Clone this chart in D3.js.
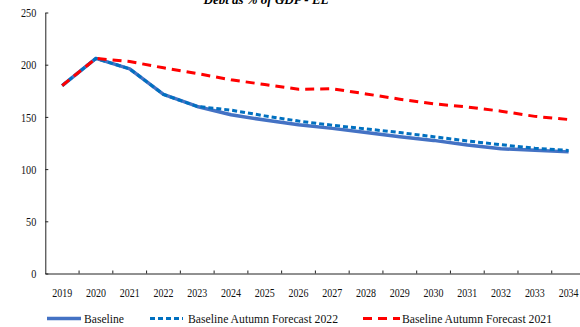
<!DOCTYPE html>
<html><head><meta charset="utf-8">
<script src="https://cdn.jsdelivr.net/npm/d3@7"></script>
<style>body{margin:0;background:#fff}svg{display:block}</style>
</head><body>
<svg id="c" width="580" height="327"></svg>
<script>
const years = ["2019","2020","2021","2022","2023","2024","2025","2026","2027","2028","2029","2030","2031","2032","2033","2034"];
const baseline = [180,206,196,171.5,160,152,147,142.5,139,135,131,127.5,123,119.5,118,116.5];
const autumn2022 = [180,206,196,171.5,160,156.5,151,146,142,138.5,135,131,127,123.3,120,117.8];
const autumn2021 = [180,206,203,197,191.5,185.5,181,176.5,177,172,167,162.5,159.5,155.5,150.5,147.5];
const yTicks = [0,50,100,150,200,250];
const seriesNames = ["Baseline","Baseline Autumn Forecast 2022","Baseline Autumn Forecast 2021"];

const svg = d3.select("#c");
const font = "'Liberation Serif','Times New Roman',serif";
const x = d3.scaleBand().domain(years).range([45.3, 585.5]);
const y = d3.scaleLinear().domain([0,250]).range([273.5, 12.5]);

// title (cut off at top, as in the original)
svg.append("text").attr("x",266).attr("y",3.5).attr("text-anchor","middle")
  .attr("font-family",font).attr("font-weight","bold").attr("font-style","italic")
  .attr("font-size",13).attr("textLength",125).attr("lengthAdjust","spacingAndGlyphs")
  .text("Debt as % of GDP - EL");

// y axis
const ya = svg.append("g").attr("transform","translate(45.3,0)")
  .call(d3.axisLeft(y).tickValues(yTicks).tickSizeInner(-3).tickSizeOuter(0).tickPadding(9));
ya.select(".domain").attr("stroke","#222");
ya.selectAll(".tick line").attr("stroke","#222");
ya.selectAll("text").attr("font-family",font).attr("font-size",13).attr("fill","#111")
  .attr("textLength",d=>String(d).length*5.1).attr("lengthAdjust","spacingAndGlyphs");

// x axis
const xa = svg.append("g").attr("transform","translate(0,273.5)")
  .call(d3.axisBottom(x).tickSize(0).tickPadding(13.5));
xa.select(".domain").attr("stroke","#222");
xa.selectAll("text").attr("font-family",font).attr("font-size",13.5).attr("fill","#111")
  .attr("transform","scale(0.74,1)");
// tick marks between categories (inward)
svg.append("g").selectAll("line").data(years.slice(1)).join("line")
  .attr("x1",d=>x(d)).attr("x2",d=>x(d)).attr("y1",273.5).attr("y2",270.5)
  .attr("stroke","#222");

const cx = d => x(d) + x.bandwidth()/2;
const line = d3.line().x((d,i)=>cx(years[i])).y(d=>y(d));

svg.append("path").datum(baseline).attr("d",line).attr("fill","none")
  .attr("stroke","#4472C4").attr("stroke-width",3.5).attr("stroke-linejoin","round");
svg.append("path").datum(autumn2022).attr("d",line).attr("fill","none")
  .attr("stroke","#0070C0").attr("stroke-width",3).attr("stroke-dasharray","5,3");
svg.append("path").datum(autumn2021).attr("d",line).attr("fill","none")
  .attr("stroke","#FF0000").attr("stroke-width",3).attr("stroke-dasharray","9,6");

// legend
const leg = [
  {x1:47,x2:81,tx:84,color:"#4472C4",w:3.5,dash:null,len:40},
  {x1:150,x2:183,tx:188,color:"#0070C0",w:3,dash:"5,3",len:150},
  {x1:363,x2:400,tx:402,color:"#FF0000",w:3,dash:"9,6",len:150}
];
leg.forEach((l,i)=>{
  svg.append("line").attr("x1",l.x1).attr("x2",l.x2).attr("y1",318.5).attr("y2",318.5)
    .attr("stroke",l.color).attr("stroke-width",l.w).attr("stroke-dasharray",l.dash);
  svg.append("text").attr("x",l.tx).attr("y",323).attr("font-family",font)
    .attr("font-size",13).attr("fill","#111").text(seriesNames[i])
    .attr("textLength",l.len).attr("lengthAdjust","spacingAndGlyphs");
});
</script>
</body></html>
